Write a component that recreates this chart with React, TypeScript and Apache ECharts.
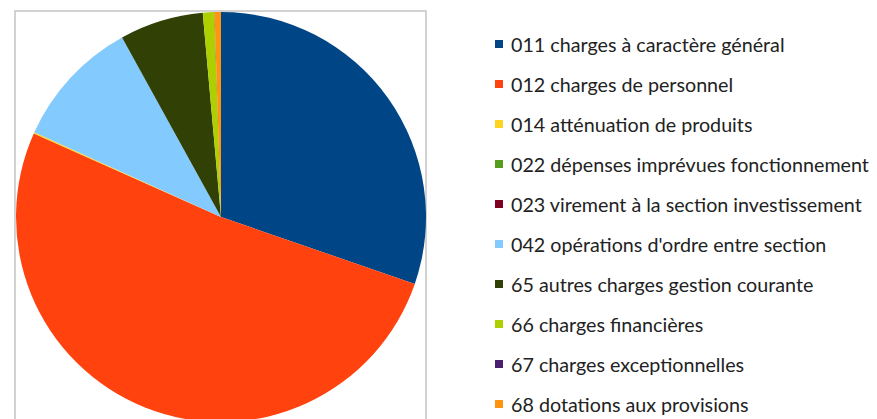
import React, { useEffect, useRef } from "react";
import * as echarts from "echarts";

const categories = [
  "011 charges à caractère général",
  "012 charges de personnel",
  "014 atténuation de produits",
  "022 dépenses imprévues fonctionnement",
  "023 virement à la section investissement",
  "042 opérations d'ordre entre section",
  "65 autres charges gestion courante",
  "66 charges financières",
  "67 charges exceptionnelles",
  "68 dotations aux provisions",
];
const values = [30.3, 51.4, 0.1, 0, 0, 10.2, 6.6, 0.9, 0.02, 0.5];
const colors = [
  "#004586",
  "#ff420e",
  "#ffd320",
  "#579d1c",
  "#7e0021",
  "#83caff",
  "#314004",
  "#aecf00",
  "#4b1f6f",
  "#ff950e",
];

export default function App() {
  const ref = useRef<HTMLDivElement>(null);
  useEffect(() => {
    if (!ref.current) return;
    const chart = echarts.init(ref.current, undefined, { renderer: "svg" });
    chart.setOption({
      animation: false,
      color: colors,
      graphic: [
        {
          type: "rect",
          shape: { x: 15, y: 11, width: 411, height: 430 },
          style: { fill: "none", stroke: "#c4c4c4", lineWidth: 1.5 },
          z: -10,
        },
      ],
      legend: {
        orient: "vertical",
        left: 490,
        top: 29,
        height: 400,
        padding: 5,
        icon: "rect",
        itemWidth: 8,
        itemHeight: 8,
        itemGap: 20,
        data: categories,
        textStyle: {
          fontFamily: "Lato",
          fontSize: 19.7,
          color: "#222",
          lineHeight: 20,
          padding: [0, 0, 0, 3],
        },
      },
      series: [
        {
          type: "pie",
          center: [221, 217],
          radius: 205,
          startAngle: 90,
          clockwise: true,
          label: { show: false },
          labelLine: { show: false },
          emphasis: { disabled: true },
          itemStyle: { borderWidth: 0 },
          data: categories.map((name, i) => ({ name, value: values[i] })),
        },
      ],
    });
    return () => chart.dispose();
  }, []);
  return (
    <div
      ref={ref}
      style={{ position: "absolute", left: 0, top: 0, width: 877, height: 419, background: "#fff" }}
    />
  );
}
